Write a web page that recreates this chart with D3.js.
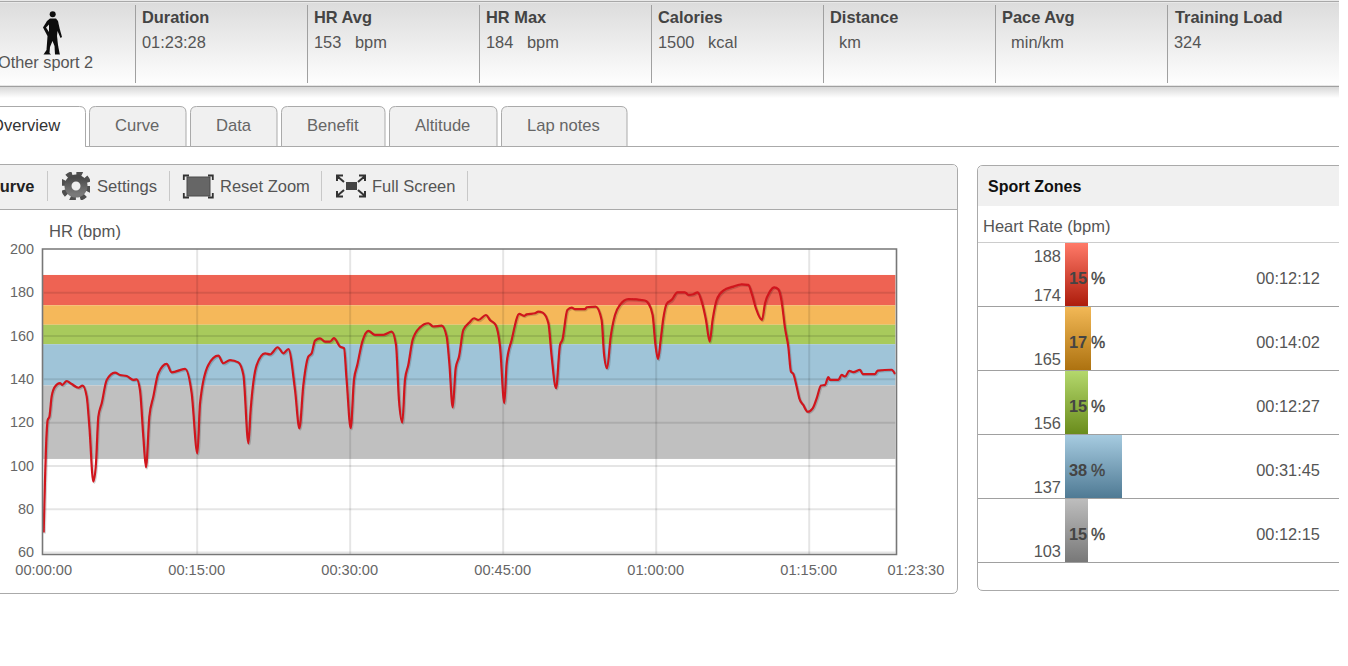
<!DOCTYPE html>
<html><head><meta charset="utf-8">
<script src="https://cdn.jsdelivr.net/npm/d3@7/dist/d3.min.js"></script>
<style>
html,body{margin:0;padding:0;background:#fff;overflow:hidden}
svg{display:block}
text{font-family:"Liberation Sans",Arial,sans-serif}
</style></head><body>
<svg id="c" width="1348" height="666"></svg>
<script>
// ---- data ----
const hrMinutes=[0,.07,.29,.39,.56,.78,1.11,1.6,1.83,2.25,2.75,3.4,3.82,4.22,4.48,4.87,5.13,5.36,5.69,6.18,6.99,7.48,8.14,8.79,9.12,9.44,9.77,10.03,10.36,10.75,11.24,12.06,12.55,13.86,14.51,15.07,15.33,16.14,17.12,17.61,18.27,19.08,19.58,20.07,20.29,20.88,21.7,22.19,22.94,23.5,23.99,24.64,25.07,25.46,25.95,26.27,26.6,27.09,27.58,28.07,28.46,29.05,29.44,29.7,30.1,30.42,30.75,31.24,31.83,32.48,33.3,34.12,34.54,34.83,35.16,35.42,35.75,36.17,36.89,37.71,38.2,39.02,39.51,39.77,40.1,40.39,40.72,41.14,41.73,42.19,42.61,43.36,43.76,44.31,44.74,45.16,45.39,45.88,46.63,47.09,47.35,48.17,48.5,48.92,49.48,49.8,50.23,50.62,50.85,51.34,51.76,52.09,53.07,53.23,54.12,54.7,54.93,55.23,55.59,56.01,56.5,57.32,58.95,59.28,59.7,59.96,60.23,60.49,60.75,61.07,61.57,62.12,62.87,63.2,63.69,64.11,64.51,64.93,65.29,65.58,65.98,66.63,67.61,68.43,69.08,69.41,69.83,70.42,70.72,71.21,71.63,72.02,72.35,72.68,73,73.26,73.49,73.82,74.08,74.47,74.9,75.39,75.78,76.21,76.6,76.92,77.09,77.9,78.23,78.56,78.98,79.38,80.03,80.29,81.5,81.76,83.13,83.46];
const hrValues=[69,82.5,114.8,121,122.5,131.8,136.4,138,137.2,139,137.6,135.9,136.9,131.8,117.9,92.5,101,122.5,128.7,139.5,142.9,141.8,141.3,139.5,139.8,134.9,113.3,99.1,122.5,131.8,142.6,146.9,143,144.6,133.3,105.6,128.7,146.4,150.7,147.2,148.7,147.6,141.8,110.2,125.6,146.4,151.8,151.3,154.6,151.8,153.8,134.9,117.1,137.2,150.3,151.8,157.7,158.7,157.2,157.2,158.8,154.9,154.2,139.5,117.2,139.5,146.5,157.2,162.2,160.3,160.3,161.8,155.7,130.3,119.8,139.5,146.5,158,163.8,165.7,164.2,164.6,159.5,147.2,126.8,144.9,150.3,162.6,166,168,167.2,169.5,167.2,164.9,154.9,128.8,147.2,158,170,169.1,169.8,170.3,171.1,170.6,165.7,150.3,135.7,155.7,158,171.8,172.9,172.2,172.2,173.1,173.4,167.2,151.8,144.9,159.5,169.5,174.2,176.8,176.2,174.9,169.5,156.5,149.1,158,168,174.6,176.5,180,180,178.8,179.1,180,175.7,167.2,157.2,167.2,176.5,180.8,182.6,183.7,183.4,179.5,172.6,167.2,174.9,180.5,182.3,181.4,175.7,163.4,154.9,143.4,142.3,136.4,131,127.9,124.8,126.4,131,136.9,137.2,140.8,139.5,139.5,141.8,141.1,143.7,143.1,144.2,142.2,142.2,143.8,144.2,142.2];
const yTicks=[200,180,160,140,120,100,80,60];
const xTickMinutes=[0,15,30,45,60,75,83.5];
const xTickLabels=["00:00:00","00:15:00","00:30:00","00:45:00","01:00:00","01:15:00","01:23:30"];
const zoneTops=[188,174,165,156,137];
const zoneBottoms=[174,165,156,137,103];
const zonePercents=[15,17,15,38,15];
const zoneTimes=["00:12:12","00:14:02","00:12:27","00:31:45","00:12:15"];
const zoneBandColors=["#ee6352","#f5b85a","#a8ca5c","#9fc4d8","#c0c0c0"];
const zoneBarTop=["#ff7a68","#f2b856","#b4d86c","#a6cbe0","#bdbdbd"];
const zoneBarBottom=["#ad1c0c","#ad7210","#6a8c1c","#4f7a94","#787878"];
const headerLabels=["Duration","HR Avg","HR Max","Calories","Distance","Pace Avg","Training Load"];
const headerValues=["01:23:28","153   bpm","184   bpm","1500   kcal","  km","  min/km","324"];
const tabLabels=["Overview","Curve","Data","Benefit","Altitude","Lap notes"];

// ---- drawing ----
const svg=d3.select("#c");
const defs=svg.append("defs");
function vgrad(id,a,b){const g=defs.append("linearGradient").attr("id",id).attr("x1",0).attr("x2",0).attr("y1",0).attr("y2",1);
 g.append("stop").attr("offset",0).attr("stop-color",a);g.append("stop").attr("offset",1).attr("stop-color",b);}
vgrad("hdr","#dcdcdc","#ffffff");vgrad("shade","#d8d8d8","#ffffff");vgrad("ic","#4a4a4a","#7a7a7a");
zoneBarTop.forEach((c,i)=>vgrad("zb"+i,c,zoneBarBottom[i]));
defs.append("filter").attr("id","soft").attr("x","-2%").attr("y","-2%").attr("width","104%").attr("height","104%")
 .attr("filterUnits","objectBoundingBox")
 .append("feGaussianBlur").attr("stdDeviation",0.45);
const txt=(x,y,s,o={})=>svg.append("text").attr("x",x).attr("y",y).text(s).style("white-space","pre")
 .attr("font-size",o.size||16.4).attr("fill",o.fill||"#555").attr("font-weight",o.weight||"normal").attr("text-anchor",o.anchor||"start");
const hline=(x1,x2,y,c,w=1)=>svg.append("line").attr("x1",x1).attr("x2",x2).attr("y1",y).attr("y2",y).attr("stroke",c).attr("stroke-width",w);
const vline=(x,y1,y2,c,w=1)=>svg.append("line").attr("x1",x).attr("x2",x).attr("y1",y1).attr("y2",y2).attr("stroke",c).attr("stroke-width",w);

// header
svg.append("rect").attr("x",0).attr("y",3).attr("width",1339).attr("height",84).attr("fill","url(#hdr)");
hline(0,1339,1.5,"#a8a8a8",1.5);hline(0,1339,86.5,"#a0a0a0",1.5);
svg.append("rect").attr("x",0).attr("y",87).attr("width",1339).attr("height",11).attr("fill","url(#shade)");
const sepX=[135.5,307.5,479.5,651.5,823.5,995.5,1167.5];
const lblX=[142,314,486,658,830,1002,1175],valX=[142,314,486,658,830,1002,1174];
headerLabels.forEach((l,i)=>{vline(sepX[i],5,83,"#a0a0a0");
 txt(lblX[i],23,l,{weight:"bold",size:16.4,fill:"#444"});txt(valX[i],48,headerValues[i],{size:16.4});});
txt(-2,68,"Other sport 2",{size:16.3});
// figure
const fig=svg.append("g").attr("filter","url(#soft)");
fig.append("circle").attr("cx",52.7).attr("cy",14.3).attr("r",3).attr("fill","#111");
fig.append("path").attr("fill","#111").attr("d","M50 18.5L56 18.5L58 21L59.5 28L62 37L60.5 38L57.5 31L57 36L58 45L59.5 53L60 54.5L55 54.5L54.5 46L52.5 41L50 47L49.5 53L51 54.5L43.5 54.5L46.5 50L47.5 36L43 27.5L47 21ZM49 24.5L46 27.5L49 32Z");

// tabs
hline(85,1339,146.5,"#aaa");
const tabX=[-30,89,190,281,389,501],tabR=[85,186,277,385,497,627],tabTxt=[-9,115,216,307,415,527];
tabLabels.forEach((l,i)=>{
 const a=tabX[i]+.5,b=tabR[i]+.5-(i?.5:0),t=106.5,bot=146.5,r=6;
 svg.append("path").attr("d",`M${a} ${bot}V${t+r}Q${a} ${t} ${a+r} ${t}H${b-r}Q${b} ${t} ${b} ${t+r}V${bot}${i?"Z":""}`)
  .attr("fill",i?"#f0f0f0":"#fff").attr("stroke","#aaa");
 txt(tabTxt[i],131,l,{size:16.6,fill:i?"#666":"#333"});
});

// left panel
svg.append("path").attr("d","M-5 164.5H952Q957.5 164.5 957.5 170V588Q957.5 593.5 952 593.5H-5Z").attr("fill","#fff").attr("stroke","#aaa");
svg.append("path").attr("d","M-5 165H952Q957 165 957 170V209H-5Z").attr("fill","#f0f0f0");
hline(0,957,209.5,"#aaa");
[47.5,169.5,321.5,467.5].forEach(x=>vline(x,171,201,"#c8c8c8"));
txt(-12,192,"Curve",{weight:"bold",size:16.4,fill:"#222"});
txt(97,192,"Settings",{size:16.6});txt(220,192,"Reset Zoom",{size:16.5});txt(372,192,"Full Screen",{size:16.5});
// gear
const gear=svg.append("g").attr("transform","translate(76,186)").attr("filter","url(#soft)");
gear.append("circle").attr("r",13).attr("fill","none").attr("stroke","#4f4f4f").attr("stroke-width",5).attr("stroke-dasharray","5.8 4.41");
gear.append("circle").attr("r",8).attr("fill","none").attr("stroke","url(#ic)").attr("stroke-width",7);
// reset zoom
svg.append("rect").attr("x",187).attr("y",177).attr("width",23).attr("height",19).attr("fill","#666").attr("stroke","#4a4a4a").attr("filter","url(#soft)");
svg.append("path").attr("fill","none").attr("stroke","#333").attr("stroke-width",1.8).attr("d","M189 175.5H183.8V180M208 175.5H212.8V180M189 197.5H183.8V193M208 197.5H212.8V193");
// full screen
svg.append("rect").attr("x",346).attr("y",182).attr("width",11).attr("height",8).attr("fill","#444");
svg.append("path").attr("fill","none").attr("stroke","#333").attr("stroke-width",2).attr("d","M343 175.5H337V181M337 176L344 182M359 175.5H365V181M365 176L358 182M343 196.5H337V191M337 196L344 190M359 196.5H365V191M365 196L358 190");

// chart
txt(49,237,"HR (bpm)",{size:16.6});
const x=d3.scaleLinear().domain([0,83.5]).range([43.67,895.4]);
const y=d3.scaleLinear().domain([60,200]).range([552,249]);
const plot=svg.append("g");
plot.append("g").selectAll("rect").data(zoneTops).join("rect")
 .attr("x",x(0)-1).attr("width",x(83.5)-x(0)+1)
 .attr("y",d=>y(d)).attr("height",(d,i)=>y(zoneBottoms[i])-y(d))
 .attr("fill",(d,i)=>zoneBandColors[i]).attr("filter","url(#soft)");
plot.append("g").attr("transform",`translate(${x(0)},0)`)
 .call(d3.axisLeft(y).tickValues(yTicks.filter(d=>d<200)).tickSize(-(x(83.5)-x(0))).tickFormat(""))
 .call(g=>g.select(".domain").remove())
 .call(g=>g.selectAll("line").attr("stroke","rgba(0,0,0,.1)").attr("stroke-width",2));
plot.append("g").attr("transform","translate(0,249)")
 .call(d3.axisBottom(x).tickValues(xTickMinutes.slice(1,6)).tickSize(305).tickFormat(""))
 .call(g=>g.select(".domain").remove())
 .call(g=>g.selectAll("line").attr("stroke","rgba(0,0,0,.1)").attr("stroke-width",2));
const lineGen=d3.line().x((d,i)=>x(hrMinutes[i])).y(d=>y(d)).curve(d3.curveMonotoneX);
plot.append("path").datum(hrValues).attr("d",lineGen).attr("fill","none").attr("stroke","rgba(0,0,0,.16)").attr("stroke-width",2.5)
 .attr("transform","translate(1,1)").attr("filter","url(#soft)");
plot.append("path").datum(hrValues).attr("d",lineGen).attr("fill","none").attr("stroke","#d0141e").attr("stroke-width",2.2)
 .attr("stroke-linejoin","round").attr("filter","url(#soft)");
// frame
svg.append("path").attr("d","M42.5 249V554.5H896.5V249Z").attr("fill","none").attr("stroke","#777").attr("stroke-width",1.6);
// tick labels
svg.append("g").attr("transform","translate(34,0)").call(d3.axisLeft(y).tickValues(yTicks).tickSize(0).tickPadding(0).tickFormat(d3.format("d")))
 .call(g=>g.select(".domain").remove())
 .call(g=>g.selectAll("text").attr("font-size",14.4).attr("fill","#666").attr("font-family",'"Liberation Sans",Arial,sans-serif'));
svg.append("g").attr("transform","translate(0,564.5)")
 .call(d3.axisBottom(x).tickValues(xTickMinutes).tickSize(0).tickPadding(0).tickFormat((d,i)=>xTickLabels[i]))
 .call(g=>g.select(".domain").remove())
 .call(g=>g.selectAll("text").attr("font-size",14.6).attr("fill","#666").attr("font-family",'"Liberation Sans",Arial,sans-serif')
   .attr("dx",(d,i)=>i==6?20:-0.5));

// right panel
svg.append("path").attr("d","M1339 165.5H983Q977.5 165.5 977.5 171V585Q977.5 590.5 983 590.5H1339").attr("fill","#fff").attr("stroke","#aaa");
svg.append("path").attr("d","M1339 166H983Q978 166 978 171V206H1339Z").attr("fill","#f0f0f0");
txt(988,192,"Sport Zones",{weight:"bold",size:16,fill:"#111"});
txt(983,232,"Heart Rate (bpm)",{size:16.5});
hline(978,1339,242.5,"#ccc");
const rowH=64,row0=243;
const w=d3.scaleLinear().domain([0,38]).range([0,57]);
zoneTops.forEach((t,i)=>{
 const top=row0+i*rowH;
 svg.append("rect").attr("x",1065).attr("y",top).attr("width",Math.round(w(zonePercents[i]))).attr("height",rowH-1).attr("fill",`url(#zb${i})`);
 hline(978,1339,top+rowH-.5,"#a0a0a0");
 if(i==0)txt(1061,262,t,{anchor:"end"});
 txt(1061,top+58,zoneBottoms[i],{anchor:"end"});
 txt(1069,top+41,zonePercents[i],{weight:"bold",fill:"#444"});
 txt(1091,top+41,"%",{fill:"#444",size:16}).attr("stroke","#444").attr("stroke-width",.35);
 txt(1320,top+41,zoneTimes[i],{anchor:"end"});
});
</script></body></html>
